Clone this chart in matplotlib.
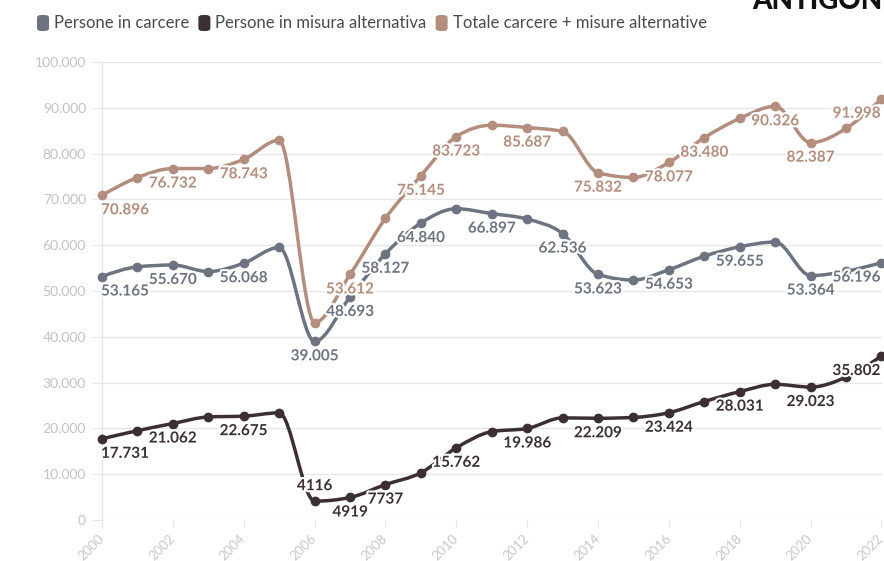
import numpy as np
import matplotlib
matplotlib.use("Agg")
import matplotlib.pyplot as plt
from matplotlib.path import Path
from matplotlib.patches import PathPatch, FancyBboxPatch
import matplotlib.patheffects as pe

# data
years = list(range(2000, 2023))
carcere = [53165, 55275, 55670, 54237, 56068, 59523, 39005, 48693, 58127, 64840, 67961, 66897,
           65701, 62536, 53623, 52389, 54653, 57608, 59655, 60700, 53364, 54300, 56196]
alternativa = [17731, 19500, 21062, 22500, 22675, 23400, 4116, 4919, 7737, 10305, 15762, 19300,
               19986, 22300, 22209, 22400, 23424, 25872, 28031, 29626, 29023, 31200, 35802]
totale = [70896, 74775, 76732, 76737, 78743, 82923, 43121, 53612, 65864, 75145, 83723, 86197,
          85687, 84836, 75832, 74789, 78077, 83480, 87686, 90326, 82387, 85500, 91998]

# which years get a value label
lab_carcere = [2000, 2002, 2004, 2006, 2007, 2008, 2009, 2011, 2013, 2014, 2016, 2018, 2020, 2022]
lab_alternativa = [2000, 2002, 2004, 2006, 2007, 2008, 2010, 2012, 2014, 2016, 2018, 2020, 2022]
lab_totale = [2000, 2002, 2004, 2007, 2009, 2010, 2012, 2014, 2016, 2017, 2019, 2020, 2022]

names = ["Persone in carcere", "Persone in misura alternativa", "Totale carcere + misure alternative"]
c_gray = "#6d7380"
c_dark = "#3b2f33"
c_tan = "#b38d7d"

FONT = "Lato"


def fmt(v):
    v = int(round(v))
    if v < 10000:
        return str(v)
    return f"{v:,}".replace(",", ".")


def monotone_path(x, y):
    # d3 curveMonotoneX as cubic beziers
    x = np.asarray(x, float)
    y = np.asarray(y, float)
    n = len(x)
    h = np.diff(x)
    s = np.diff(y) / h
    t = np.zeros(n)
    for i in range(1, n - 1):
        p = (s[i - 1] * h[i] + s[i] * h[i - 1]) / (h[i - 1] + h[i])
        t[i] = (np.sign(s[i - 1]) + np.sign(s[i])) * min(abs(s[i - 1]), abs(s[i]), 0.5 * abs(p))
    t[0] = (3 * s[0] - t[1]) / 2
    t[-1] = (3 * s[-1] - t[-2]) / 2
    verts = [(x[0], y[0])]
    codes = [Path.MOVETO]
    for i in range(n - 1):
        dx = h[i] / 3
        verts += [(x[i] + dx, y[i] + dx * t[i]), (x[i + 1] - dx, y[i + 1] - dx * t[i + 1]),
                  (x[i + 1], y[i + 1])]
        codes += [Path.CURVE4] * 3
    return Path(verts, codes)


fig = plt.figure(figsize=(8.84, 5.61), dpi=100)
ax = fig.add_axes([102 / 884, 41 / 561, 779.5 / 884, 458 / 561])
ax.set_xlim(2000, 2022)
ax.set_ylim(0, 100000)

for sp in ["top", "right", "bottom"]:
    ax.spines[sp].set_visible(False)
ax.spines["left"].set_color("#e6e6e6")
ax.spines["left"].set_linewidth(1)

yt = np.arange(0, 100001, 10000)
ax.set_yticks(yt)
ax.set_yticklabels([fmt(v) if v else "0" for v in yt], fontsize=10, color="#c2c2c2", family=FONT)
ax.tick_params(axis="y", length=7, color="#e6e6e6", pad=4.5)
ax.grid(axis="y", color="#e6e6e6", lw=1)
ax.set_axisbelow(True)

xt = list(range(2000, 2023, 2))
ax.set_xticks(xt)
ax.set_xticklabels([str(v) for v in xt], rotation=45, ha="right", va="center", rotation_mode="anchor",
                   fontsize=9.5, color="#c8c8c8", family=FONT)
ax.tick_params(axis="x", length=5, color="#e6e6e6", pad=7)

series = [(totale, c_tan, lab_totale), (carcere, c_gray, lab_carcere), (alternativa, c_dark, lab_alternativa)]
for vals, col, labs in series:
    ax.add_patch(PathPatch(monotone_path(years, vals), fc="none", ec=col, lw=2.5, clip_on=False,
                           capstyle="round", joinstyle="round", zorder=3))
    ax.plot(years, vals, "o", color=col, ms=6, clip_on=False, zorder=4)

for vals, col, labs in series:
    for yr in labs:
        v = vals[years.index(yr)]
        dx, dy = 0, -15
        if yr == 2000:
            dx = 23
        elif yr == 2022:
            dx = -25
        if vals is alternativa and yr == 2006:
            dy = 15
        ax.annotate(fmt(v), (yr, v), xytext=(dx, dy), textcoords="offset pixels",
                    ha="center", va="center", fontsize=11, fontweight="bold", color=col,
                    family=FONT, zorder=6, annotation_clip=False,
                    path_effects=[pe.withStroke(linewidth=3, foreground="white")])

# legend
lx = 37
for name, col in zip(names, [c_gray, c_dark, c_tan]):
    fig.patches.append(FancyBboxPatch((lx / 884, 1 - 31 / 561), 12 / 884, 16 / 561,
                                      boxstyle="round,pad=0,rounding_size=0.005",
                                      transform=fig.transFigure, fc=col, ec="none"))
    t = fig.text((lx + 17) / 884, 1 - 23 / 561, name, fontsize=12, color="#4a4a4a",
                 family=FONT, va="center", ha="left")
    fig.canvas.draw()
    bb = t.get_window_extent()
    lx = bb.x1 + 9

fig.text(752 / 884, 1 - 9 / 561, "ANTIGONE", fontsize=20, fontweight="black", color="#111111",
         family=FONT, va="baseline", ha="left")

fig.savefig("out.png", dpi=100)
